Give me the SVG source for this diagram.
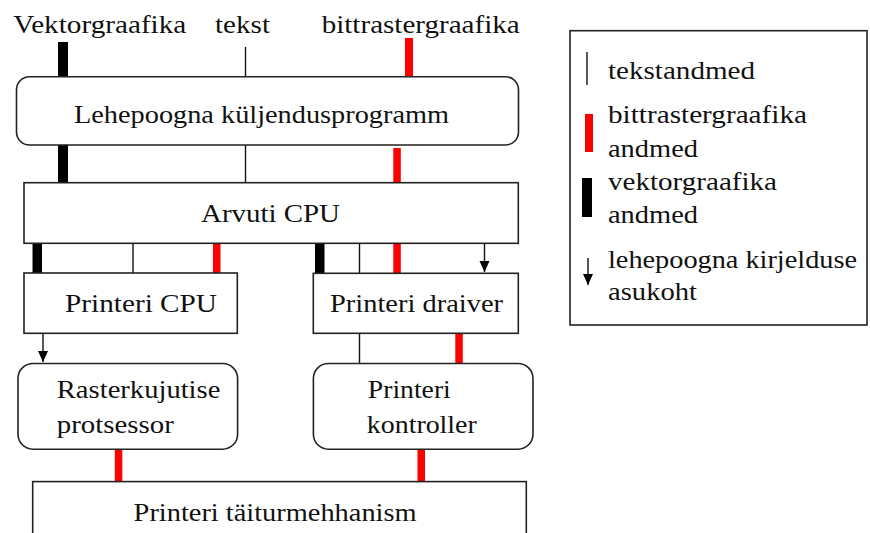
<svg xmlns="http://www.w3.org/2000/svg" width="870" height="533" viewBox="0 0 870 533">
<style>
text{font-family:"Liberation Serif","Times New Roman",serif;font-size:26px;fill:#111}
.box{fill:#fff;stroke:#222;stroke-width:1.6}
.thin{stroke:#111;stroke-width:1.4;fill:none}
.blk{fill:#000}
.red{fill:#f00}
</style>
<defs>
<marker id="dn" markerUnits="userSpaceOnUse" markerWidth="12" markerHeight="12" refX="6" refY="12" viewBox="0 0 12 12">
<path d="M1,1 L11,1 L6,12 Z" fill="#000"/>
</marker>
</defs>
<rect width="870" height="533" fill="#fff"/>

<g id="inputs">
<text x="13.3" y="33.3" textLength="173" lengthAdjust="spacingAndGlyphs">Vektorgraafika</text>
<text x="215" y="33.3" textLength="55" lengthAdjust="spacingAndGlyphs">tekst</text>
<text x="321.7" y="33.3" textLength="198" lengthAdjust="spacingAndGlyphs">bittrastergraafika</text>
</g>

<g id="connectors">
<rect class="blk" x="58" y="42" width="10" height="40"/>
<line class="thin" x1="245.5" y1="47" x2="245.5" y2="77"/>
<rect class="red" x="405" y="38" width="8" height="39"/>
<rect class="blk" x="58" y="145" width="10" height="38"/>
<line class="thin" x1="245.5" y1="145" x2="245.5" y2="183"/>
<rect class="red" x="393.3" y="148" width="7.5" height="37"/>
<rect class="blk" x="32.5" y="243" width="9.5" height="33"/>
<line class="thin" x1="133" y1="243" x2="133" y2="273"/>
<rect class="red" x="213" y="241" width="7.5" height="37"/>
<rect class="blk" x="315" y="243" width="9.5" height="33"/>
<line class="thin" x1="359.5" y1="243" x2="359.5" y2="273"/>
<rect class="red" x="393.3" y="241" width="7.5" height="37"/>
<line class="thin" x1="484.5" y1="243" x2="484.5" y2="272" marker-end="url(#dn)"/>
<line class="thin" x1="43" y1="333" x2="43" y2="362" marker-end="url(#dn)"/>
<line class="thin" x1="359.5" y1="333" x2="359.5" y2="363"/>
<rect class="red" x="455.3" y="330" width="7.5" height="36"/>
<rect class="red" x="114.8" y="446" width="7.5" height="40"/>
<rect class="red" x="417.5" y="446" width="7.5" height="40"/>
</g>

<g id="lehepoogna">
<rect class="box" x="16.5" y="76.7" width="502" height="68.3" rx="13" ry="13"/>
<text x="74" y="123" textLength="375" lengthAdjust="spacingAndGlyphs">Lehepoogna küljendusprogramm</text>
</g>

<g id="arvuti">
<rect class="box" x="24" y="182.7" width="494.3" height="60.6"/>
<text x="201" y="221.7" textLength="139" lengthAdjust="spacingAndGlyphs">Arvuti CPU</text>
</g>

<g id="printeri-cpu">
<rect class="box" x="24" y="273" width="213.3" height="60.3"/>
<text x="65" y="311.7" textLength="152" lengthAdjust="spacingAndGlyphs">Printeri CPU</text>
</g>

<g id="printeri-draiver">
<rect class="box" x="313.3" y="273.3" width="205" height="60"/>
<text x="330" y="311.7" textLength="173" lengthAdjust="spacingAndGlyphs">Printeri draiver</text>
</g>

<g id="rasterkujutise">
<rect class="box" x="18" y="363.5" width="219.6" height="85.7" rx="15" ry="15"/>
<text x="56.8" y="398" textLength="163.6" lengthAdjust="spacingAndGlyphs">Rasterkujutise</text>
<text x="56.8" y="432.7" textLength="117" lengthAdjust="spacingAndGlyphs">protsessor</text>
</g>

<g id="printeri-kontroller">
<rect class="box" x="313.4" y="363.5" width="219.6" height="85.7" rx="15" ry="15"/>
<text x="367.8" y="398" textLength="83" lengthAdjust="spacingAndGlyphs">Printeri</text>
<text x="366.8" y="432.7" textLength="110" lengthAdjust="spacingAndGlyphs">kontroller</text>
</g>

<g id="taiturmehhanism">
<rect class="box" x="32.7" y="481.6" width="493.6" height="70"/>
<text x="133.6" y="521" textLength="283" lengthAdjust="spacingAndGlyphs">Printeri täiturmehhanism</text>
</g>

<g id="legend">
<rect class="box" x="570" y="30.7" width="297" height="294.3"/>
<line class="thin" x1="587" y1="52" x2="587" y2="85"/>
<text x="608" y="79" textLength="147" lengthAdjust="spacingAndGlyphs">tekstandmed</text>
<rect class="red" x="585" y="114" width="8" height="38"/>
<text x="608" y="123" textLength="199" lengthAdjust="spacingAndGlyphs">bittrastergraafika</text>
<text x="608" y="157" textLength="90" lengthAdjust="spacingAndGlyphs">andmed</text>
<rect class="blk" x="582" y="178" width="10" height="39"/>
<text x="608" y="190" textLength="169" lengthAdjust="spacingAndGlyphs">vektorgraafika</text>
<text x="608" y="223" textLength="90" lengthAdjust="spacingAndGlyphs">andmed</text>
<line class="thin" x1="588" y1="258" x2="588" y2="285" marker-end="url(#dn)"/>
<text x="608" y="268" textLength="249" lengthAdjust="spacingAndGlyphs">lehepoogna kirjelduse</text>
<text x="608" y="300" textLength="89" lengthAdjust="spacingAndGlyphs">asukoht</text>
</g>
</svg>
